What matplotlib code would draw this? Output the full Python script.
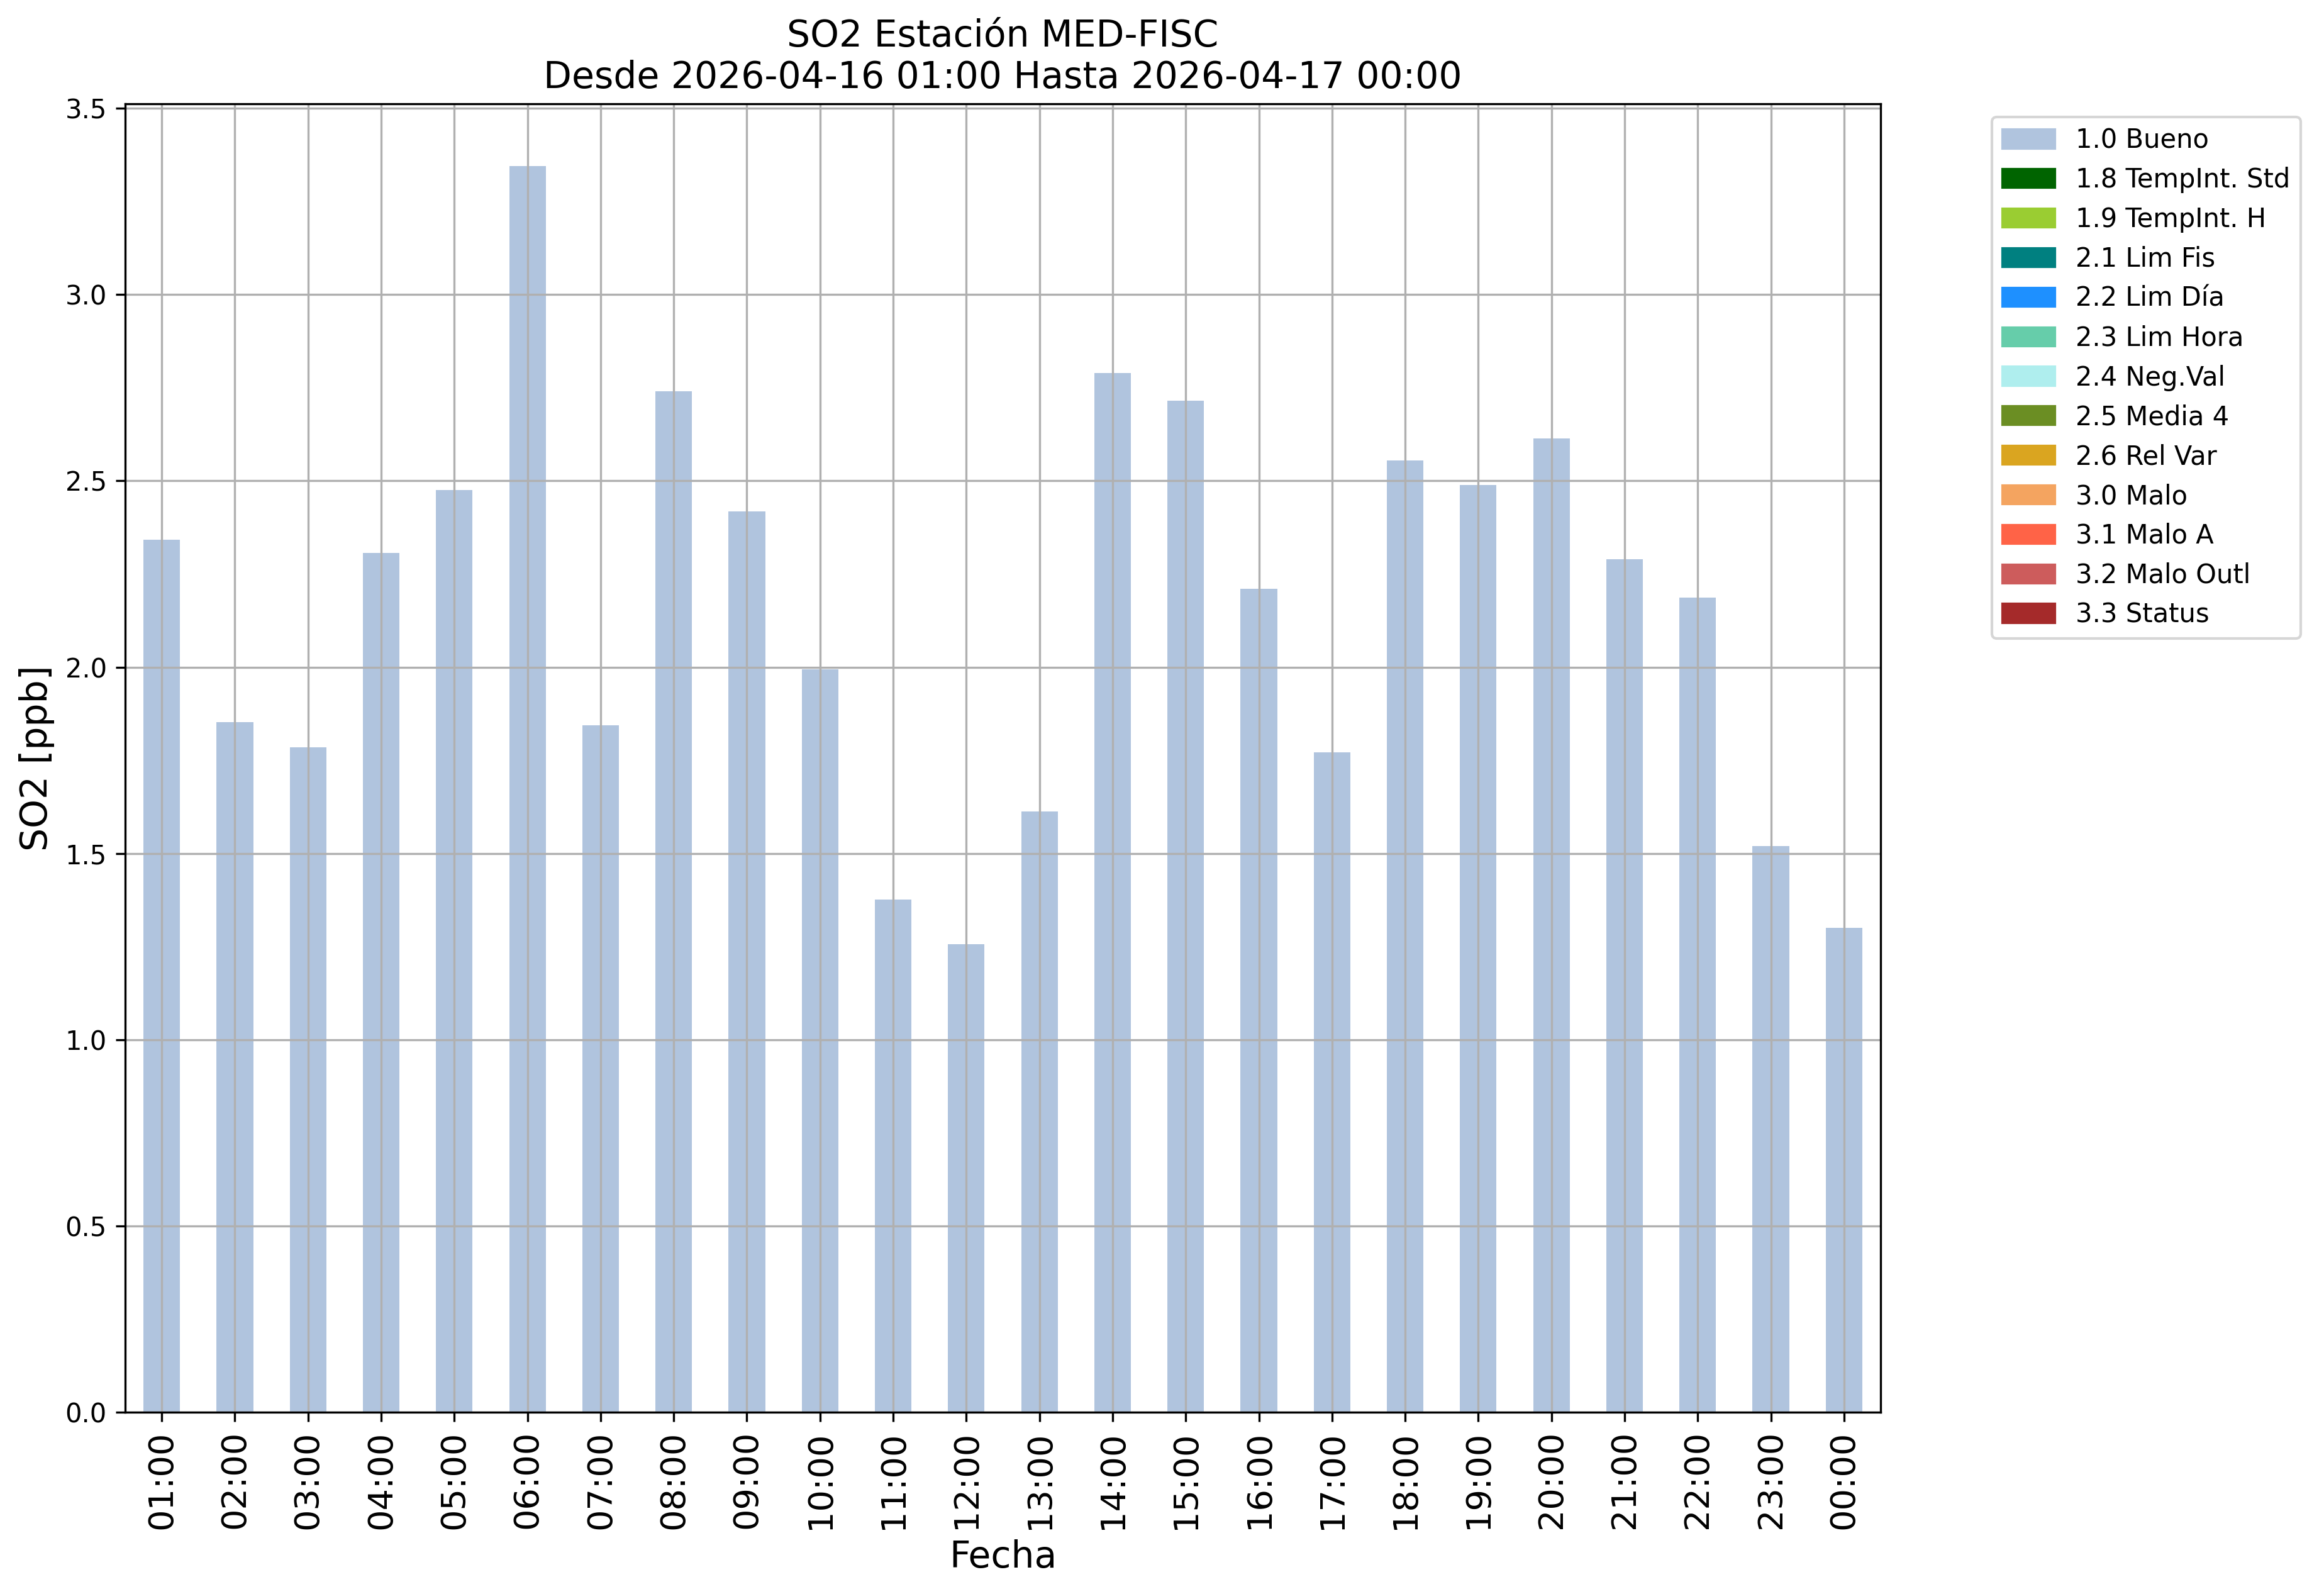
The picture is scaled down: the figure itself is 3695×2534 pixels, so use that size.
import matplotlib
matplotlib.use("Agg")
import matplotlib.pyplot as plt
import matplotlib.patches as mpatches

# Datos horarios de SO2 (ppb)
horas = ["01:00", "02:00", "03:00", "04:00", "05:00", "06:00", "07:00", "08:00",
         "09:00", "10:00", "11:00", "12:00", "13:00", "14:00", "15:00", "16:00",
         "17:00", "18:00", "19:00", "20:00", "21:00", "22:00", "23:00", "00:00"]
so2 = [2.342, 1.852, 1.784, 2.306, 2.476, 3.345, 1.844, 2.741,
       2.418, 1.995, 1.376, 1.257, 1.612, 2.789, 2.716, 2.210,
       1.772, 2.554, 2.489, 2.614, 2.290, 2.187, 1.520, 1.301]

# Banderas de calidad
banderas = ["1.0 Bueno", "1.8 TempInt. Std", "1.9 TempInt. H", "2.1 Lim Fis",
            "2.2 Lim Día", "2.3 Lim Hora", "2.4 Neg.Val", "2.5 Media 4",
            "2.6 Rel Var", "3.0 Malo", "3.1 Malo A", "3.2 Malo Outl", "3.3 Status"]
colores = ["lightsteelblue", "darkgreen", "yellowgreen", "teal",
           "dodgerblue", "mediumaquamarine", "paleturquoise", "olivedrab",
           "goldenrod", "sandybrown", "tomato", "indianred", "brown"]

fig, ax = plt.subplots(figsize=(3695 / 300, 2534 / 300), dpi=300)
fig.subplots_adjust(left=199 / 3695, right=2990 / 3695,
                    top=1 - 165 / 2534, bottom=1 - 2245 / 2534)

x = list(range(len(horas)))
ax.bar(x, so2, width=0.5, color=colores[0])
ax.set_xlim(-0.5, len(horas) - 0.5)
ax.set_xticks(x)
ax.set_xticklabels(horas, rotation=90, fontsize=13)
ax.tick_params(axis="y", labelsize=10)
ax.grid(True)

ax.set_title("SO2 Estación MED-FISC\nDesde 2026-04-16 01:00 Hasta 2026-04-17 00:00", fontsize=14)
ax.set_xlabel("Fecha", fontsize=14)
ax.set_ylabel("SO2 [ppb]", fontsize=14)

handles = [mpatches.Patch(color=c, label=b) for b, c in zip(banderas, colores)]
ax.legend(handles=handles, bbox_to_anchor=(1.056, 1), loc="upper left", fontsize=10)

fig.savefig("out.png", dpi=300)
